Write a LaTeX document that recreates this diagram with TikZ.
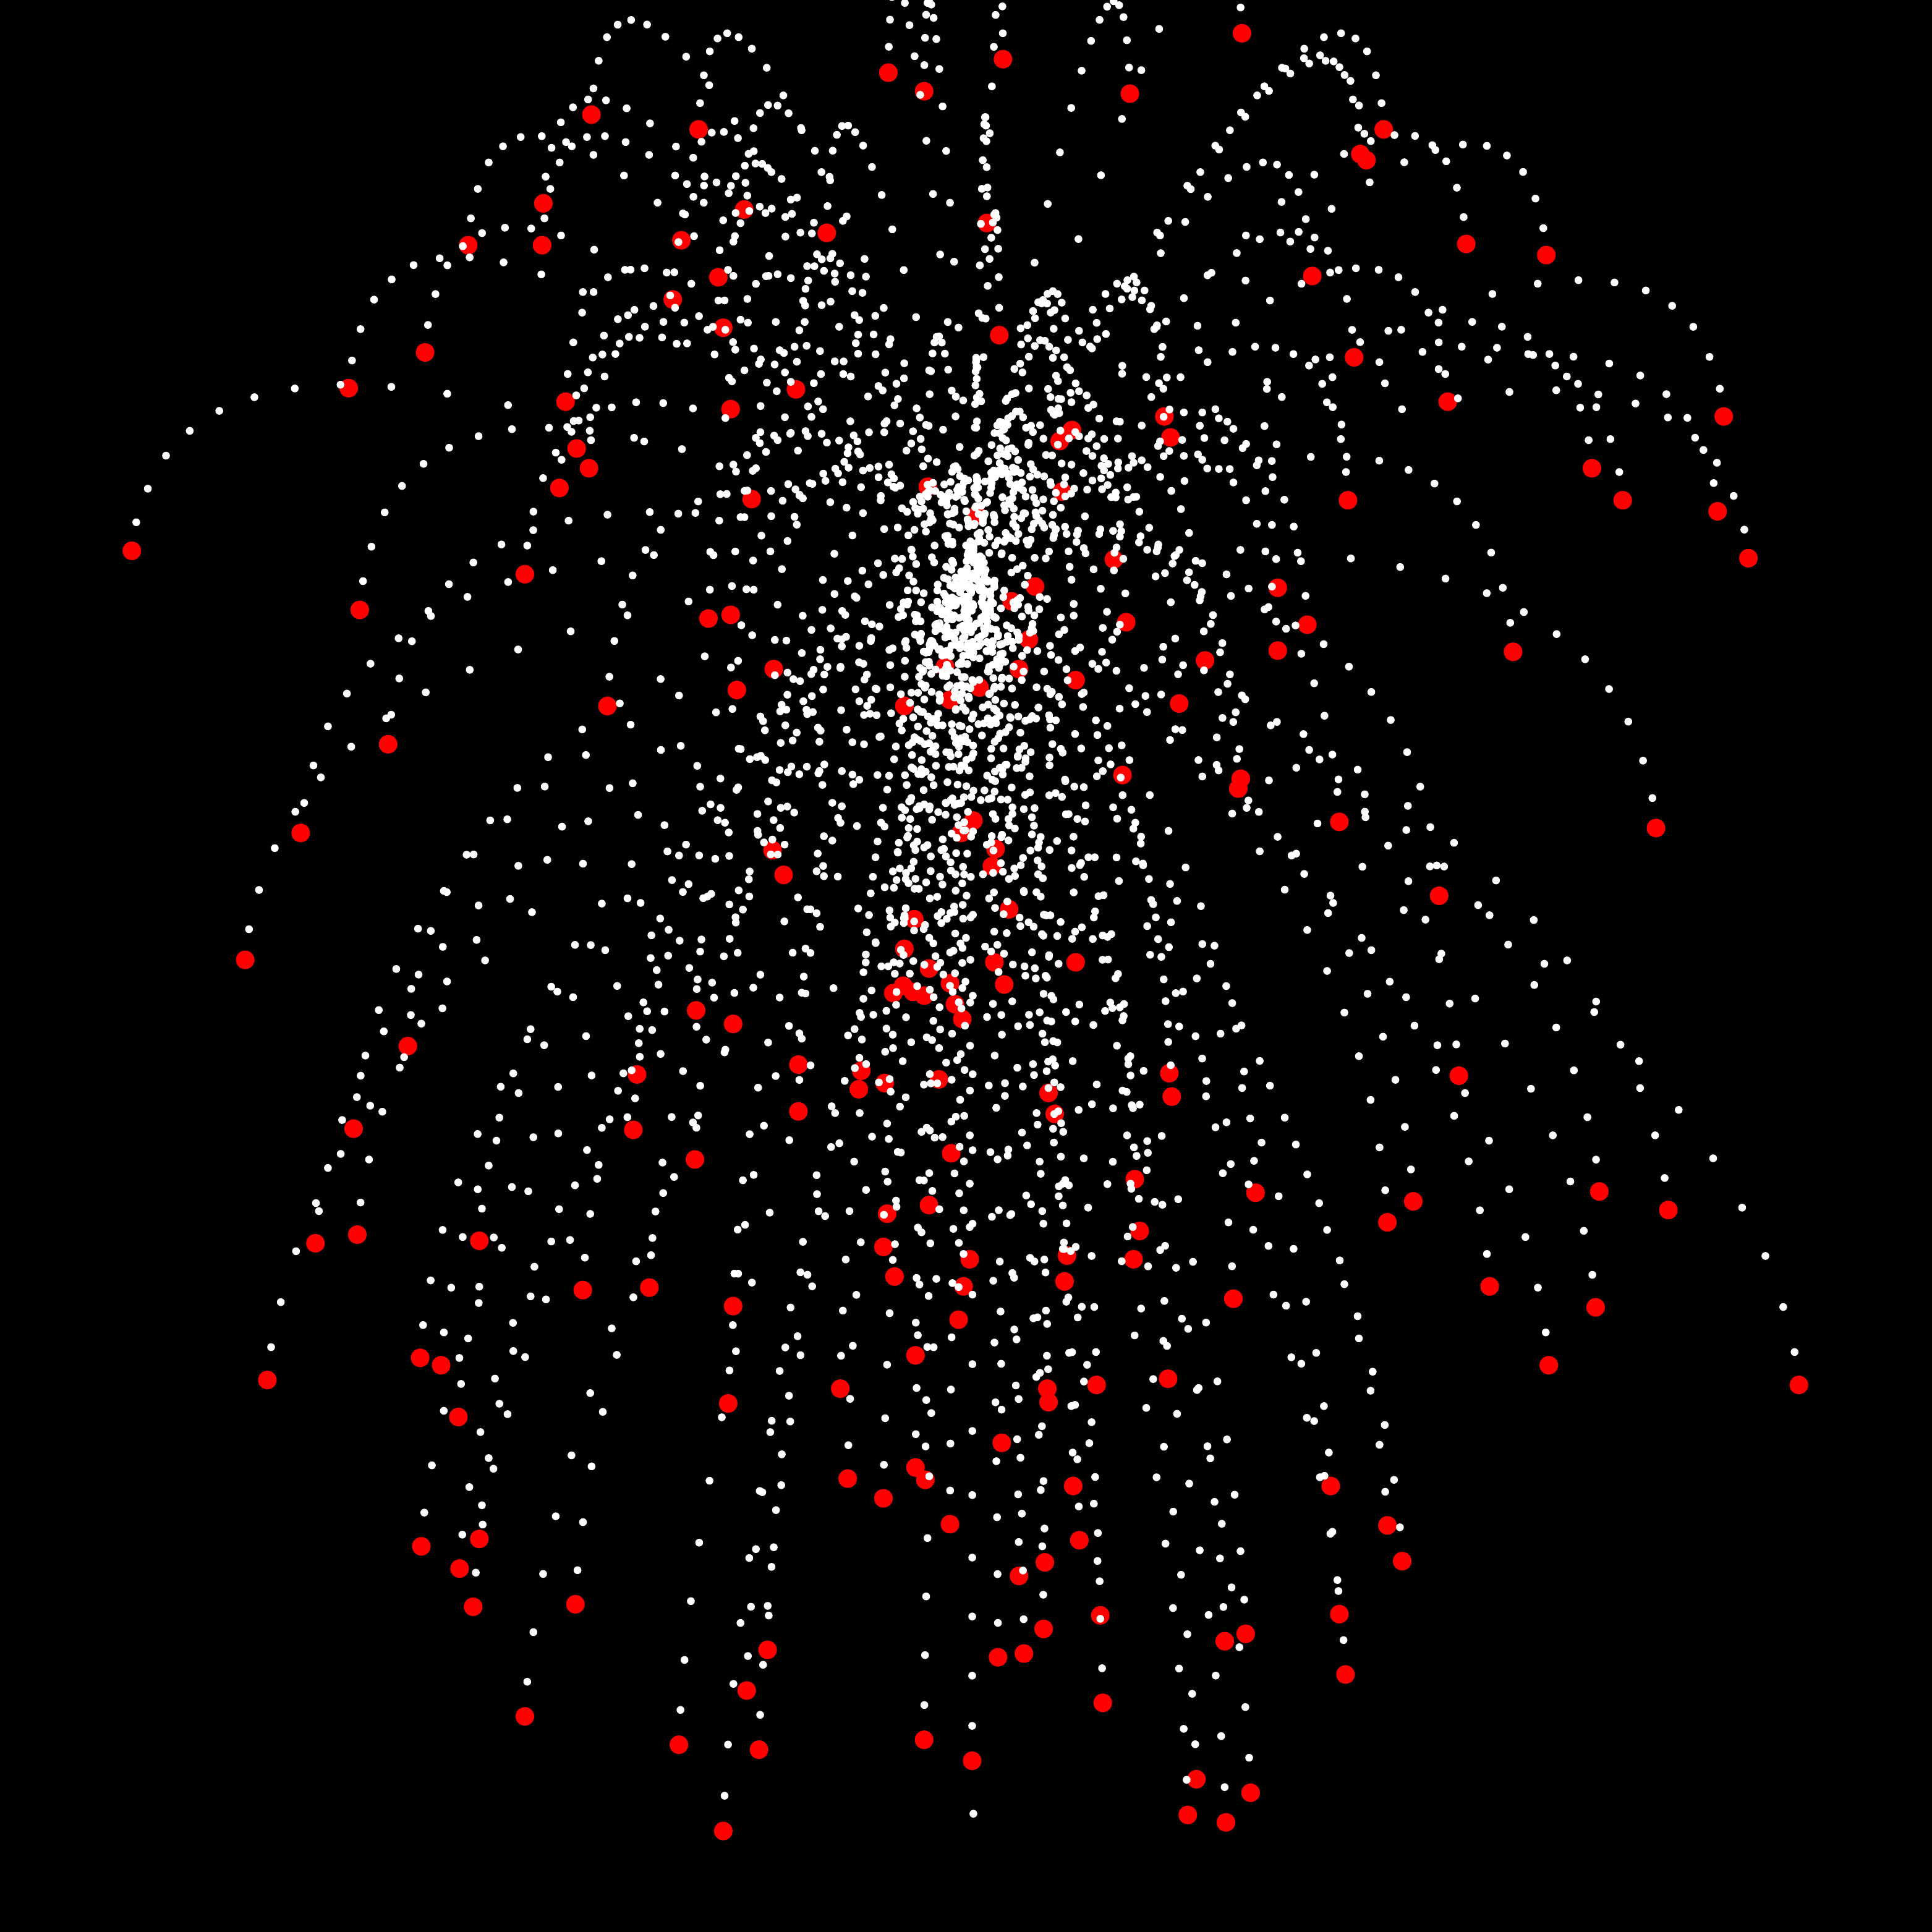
\documentclass[tikz,border=0pt]{standalone}
\begin{document}
\def\redlist{721/59,750/74,814/48,1008/27,917/76,480/93,567/105,441/165,440/199,380/199,604/170,553/195,671/189,801/181,583/225,546/243,587/266,345/286,283/315,646/316,459/326,593/332,811/272,1123/105,1104/125,1109/130,1190/198,1255/207,1065/224,1099/290,1175/326,1399/338,945/338,950/355,870/349,860/358,468/364,478/380,454/396,107/447,610/405,753/395,793/418,862/399,1292/380,1317/406,1094/406,1394/415,1419/453,904/454,840/476,426/466,292/495,575/502,593/499,821/488,914/505,1037/477,1061/507,1037/528,1228/529,835/519,978/536,628/543,767/541,827/543,598/560,873/552,795/558,771/568,734/573,493/573,957/571,315/604,911/629,1007/632,1005/640,1087/667,1344/672,790/666,780/676,244/676,627/690,808/689,805/703,636/710,1168/727,819/738,742/746,734/770,199/779,807/781,873/781,754/786,771/798,815/799,733/800,725/806,741/805,750/808,775/815,781/827,565/820,595/831,331/849,699/869,648/864,517/872,718/879,762/876,697/884,949/871,1184/873,851/887,951/890,856/904,648/902,514/917,287/916,772/936,564/941,921/957,1019/968,1298/967,1147/975,754/978,720/985,1354/982,1126/992,925/999,256/1009,290/1002,389/1007,717/1012,866/1019,920/1022,787/1022,726/1036,864/1040,782/1044,527/1045,473/1047,1209/1044,1001/1054,1295/1061,595/1060,778/1071,743/1100,341/1102,358/1108,1257/1108,217/1120,948/1119,1460/1124,890/1124,682/1127,850/1127,851/1138,591/1139,372/1150,813/1171,743/1191,751/1201,688/1200,717/1216,871/1206,1080/1206,771/1237,1126/1238,389/1249,876/1250,342/1255,1138/1267,848/1268,373/1273,827/1279,384/1304,467/1302,1087/1310,893/1311,847/1322,1011/1326,994/1332,623/1339,831/1342,810/1345,1092/1359,606/1372,895/1382,426/1393,750/1412,551/1416,616/1420,789/1429,971/1444,1015/1455,964/1473,995/1479,587/1486}
\begin{tikzpicture}[x=0.01cm,y=-0.01cm]
\tikzset{reddot/.style={fill={rgb,255:red,255;green,0;blue,0}},whitedot/.style={fill=white}}
\fill[black] (0,0) rectangle (1568,1568);
\useasboundingbox (0,0) rectangle (1568,1568);
\clip (0,0) rectangle (1568,1568);
\foreach \X/\Y in \redlist {\fill[reddot] (\X,\Y) circle[radius=0.0753cm];}
\foreach \k/\c in {1/10,2/10.5,3/6.5,4/5,5/3,6/2,7/1,8/0,9/0,10/0,11/0,12/0,13/0,14/0,15/0,16/0}{
  \pgfmathsetmacro{\h}{(\k/17)^1.85}
  \pgfmathsetmacro{\d}{620*\k/17}
  \foreach \X/\Y in \redlist {
    \fill[whitedot] ({\X+(790-\X)*\h},{\Y-\d+(1080-\Y)*\h+\c}) circle[radius=0.0316cm];
  }
}
\fill[whitedot] (790,1472) circle[radius=0.0316cm];
\end{tikzpicture}
\end{document}
